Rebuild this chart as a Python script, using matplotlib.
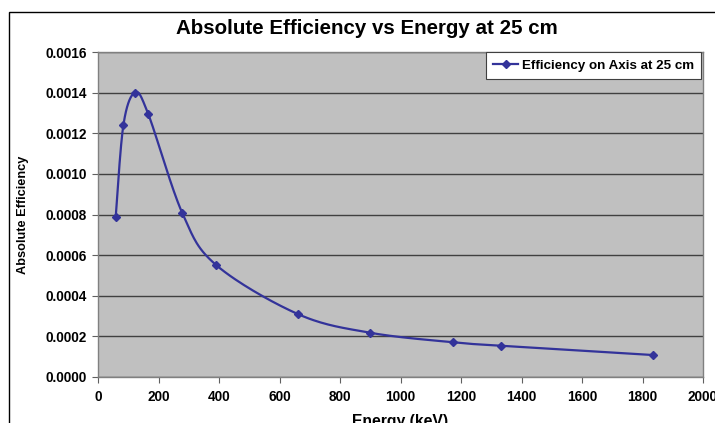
import matplotlib
matplotlib.use('Agg')
import matplotlib.pyplot as plt
from matplotlib.patches import Rectangle
import numpy as np

plt.rcParams['font.family'] = ['Liberation Sans', 'DejaVu Sans']

energy = [58.5, 84, 122, 166, 279, 390, 662, 899, 1173, 1332, 1836]
efficiency = [0.000787, 0.001241, 0.001400, 0.001295, 0.000806, 0.000552,
              0.000309, 0.000218, 0.000171, 0.000154, 0.000108]
xticks = list(range(0, 2001, 200))
yticks = [i * 0.0002 for i in range(9)]

W, H = 715, 423


def smooth(x, y, xr, yr, n=30):
    # excel-like smoothed line: catmull-rom through the points in normalised space
    px = np.array(x) / xr
    py = np.array(y) / yr
    P = np.column_stack([px, py])
    P = np.vstack([P[0], P, P[-1]])
    out = []
    for i in range(1, len(P) - 2):
        p0, p1, p2, p3 = P[i - 1], P[i], P[i + 1], P[i + 2]
        t = np.linspace(0, 1, n)[:, None]
        seg = 0.5 * ((2 * p1) + (-p0 + p2) * t + (2 * p0 - 5 * p1 + 4 * p2 - p3) * t ** 2
                     + (-p0 + 3 * p1 - 3 * p2 + p3) * t ** 3)
        out.append(seg)
    out = np.vstack(out)
    return out[:, 0] * xr, out[:, 1] * yr


fig = plt.figure(figsize=(W / 100, H / 100), dpi=100)
fig.patches.append(Rectangle((9 / W, -0.1), 1.2, 1 - 12 / H + 0.1, transform=fig.transFigure,
                             fill=False, edgecolor='black', linewidth=1.0))
ax = fig.add_axes([98 / W, 1 - 377 / H, 605 / W, 325 / H])
ax.set_facecolor('#c0c0c0')

col = '#33339a'
sx, sy = smooth(energy, efficiency, 2000 * 1.9, 0.0016)
ax.plot(sx, sy, '-', color=col, linewidth=1.6, zorder=3)
ax.plot(energy, efficiency, 'D', color=col, markersize=4, zorder=4)
ax.plot([], [], '-D', color=col, linewidth=1.6, markersize=4, label='Efficiency on Axis at 25 cm')

ax.set_xlim(0, 2000)
ax.set_ylim(0, 0.0016)
ax.set_xticks(xticks)
ax.set_yticks(yticks)
ax.set_xticklabels([str(v) for v in xticks], fontsize=9.8, fontweight='bold')
ax.set_yticklabels(['%.4f' % v for v in yticks], fontsize=9.8, fontweight='bold')
ax.tick_params(direction='out', length=4.3, color='#606060', pad=3.5)
ax.tick_params(axis='x', pad=5)
ax.yaxis.grid(True, color='#404040', linewidth=1.0)
ax.set_axisbelow(True)
for s in ax.spines.values():
    s.set_color('#808080')
    s.set_linewidth(1.0)

fig.text(366.5 / W, 1 - 34.3 / H, 'Absolute Efficiency vs Energy at 25 cm', fontsize=14.8,
         fontweight='bold', ha='center', va='baseline')
ax.set_xlabel('Energy (keV)', fontsize=11.3, fontweight='bold', labelpad=7)
ax.yaxis.set_label_coords(-(98 - 23) / 605, 0.5)
ax.set_ylabel('Absolute Efficiency', fontsize=9.2, fontweight='bold', va='center')

leg = ax.legend(loc='upper right', bbox_to_anchor=(1 - 2 / 605, 1), borderaxespad=0,
                prop={'weight': 'bold', 'size': 9.6}, fancybox=False, framealpha=1,
                edgecolor='#404040', handlelength=1.9, handletextpad=0.25, borderpad=0.55)
leg.get_frame().set_linewidth(0.8)

fig.savefig('out.png', dpi=100)
